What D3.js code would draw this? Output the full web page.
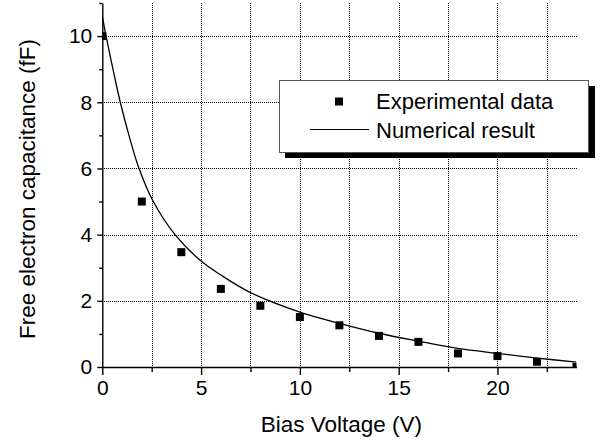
<!DOCTYPE html>
<html>
<head>
<meta charset="utf-8">
<script src="https://cdn.jsdelivr.net/npm/d3@7"></script>
<style>
  html, body { margin: 0; padding: 0; background: #fff; }
  svg { display: block; font-family: "Liberation Sans", Arial, Helvetica, sans-serif; }
</style>
</head>
<body>
<svg id="chart" width="610" height="443"></svg>
<script>
// ---- data ----
const expVoltage = [0, 2, 4, 6, 8, 10, 12, 14, 16, 18, 20, 22, 24];
const expCapacitance = [10.0, 5.0, 3.47, 2.36, 1.85, 1.51, 1.26, 0.94, 0.76, 0.41, 0.33, 0.16, 0.0];

const numVoltage = [0, 0.19, 0.54, 0.91, 1.35, 1.86, 2.58, 3.68, 5, 6, 7.5, 10, 12, 14, 16, 18, 20, 22, 24];
const numCapacitance = [10.6, 10.0, 9.0, 8.0, 7.0, 6.0, 5.0, 4.0, 3.2, 2.78, 2.25, 1.66, 1.32, 1.02, 0.78, 0.56, 0.41, 0.27, 0.15];

const xMajorTicks = [0, 5, 10, 15, 20];
const xMinorTicks = [2.5, 7.5, 12.5, 17.5, 22.5];
const yMajorTicks = [0, 2, 4, 6, 8, 10];
const yMinorTicks = [1, 3, 5, 7, 9, 11];

const xTitle = "Bias Voltage (V)";
const yTitle = "Free electron capacitance (fF)";
const legendLabels = ["Experimental data", "Numerical result"];

// ---- layout ----
const svg = d3.select("#chart");
const pLeft = 102.3, pRight = 576.5, pTop = 3, pBottom = 367;

const x = d3.scaleLinear().domain([0, 24]).range([pLeft, pRight]);
const y = d3.scaleLinear().domain([0, 11]).range([pBottom, pTop]);

// grid
const grid = svg.append("g").attr("stroke", "#000").attr("stroke-width", 1)
  .attr("stroke-dasharray", "1,1").attr("shape-rendering", "crispEdges");
[...xMajorTicks.filter(d => d > 0), ...xMinorTicks].forEach(v => {
  grid.append("line").attr("x1", Math.round(x(v)) + 0.5).attr("x2", Math.round(x(v)) + 0.5)
    .attr("y1", y(11)).attr("y2", pBottom);
});
yMajorTicks.filter(d => d > 0).forEach(v => {
  grid.append("line").attr("y1", Math.round(y(v)) + 0.5).attr("y2", Math.round(y(v)) + 0.5)
    .attr("x1", pLeft).attr("x2", pRight);
});

// clip
svg.append("clipPath").attr("id", "plotclip").append("rect")
  .attr("x", pLeft).attr("y", pTop).attr("width", pRight - pLeft).attr("height", pBottom - pTop);

// curve
const line = d3.line().x((d, i) => x(numVoltage[i])).y(d => y(d)).curve(d3.curveCatmullRom.alpha(0.5));
svg.append("path").datum(numCapacitance)
  .attr("d", line).attr("fill", "none").attr("stroke", "#000").attr("stroke-width", 1.3)
  .attr("clip-path", "url(#plotclip)");

// markers
const ms = 8;
svg.append("g").attr("clip-path", "url(#plotclip)")
  .selectAll("rect").data(expCapacitance).join("rect")
  .attr("x", (d, i) => x(expVoltage[i]) - ms / 2)
  .attr("y", d => y(d) - ms / 2)
  .attr("width", ms).attr("height", ms).attr("fill", "#000");

// axes
svg.append("g").attr("transform", `translate(0,${pBottom})`)
  .call(d3.axisBottom(x).tickValues(xMajorTicks).tickSize(8).tickSizeOuter(0).tickPadding(5));
svg.append("g").attr("transform", `translate(0,${pBottom})`)
  .call(d3.axisBottom(x).tickValues(xMinorTicks).tickSize(5).tickSizeOuter(0).tickFormat(""))
  .select(".domain").remove();
svg.append("g").attr("transform", `translate(${pLeft},0)`)
  .call(d3.axisLeft(y).tickValues(yMajorTicks).tickSize(5).tickSizeOuter(0).tickPadding(5));
svg.append("g").attr("transform", `translate(${pLeft},0)`)
  .call(d3.axisLeft(y).tickValues(yMinorTicks).tickSize(3).tickSizeOuter(0).tickFormat(""))
  .select(".domain").remove();

svg.selectAll(".tick line, .domain").attr("stroke", "#000").attr("stroke-width", 1.4);
svg.selectAll(".tick text").attr("fill", "#000").style("font-size", "21px")
  .style("font-family", "'Liberation Sans', Arial, sans-serif");

// titles
svg.append("text").attr("x", (pLeft + pRight) / 2 + 2).attr("y", 432)
  .attr("text-anchor", "middle").style("font-size", "22.5px").text(xTitle);
svg.append("text").attr("transform", `translate(35,189) rotate(-90)`)
  .attr("text-anchor", "middle").style("font-size", "22.5px").text(yTitle);

// legend
const lg = svg.append("g");
lg.append("rect").attr("x", 285).attr("y", 86).attr("width", 310).attr("height", 72).attr("fill", "#000");
lg.append("rect").attr("x", 279.5).attr("y", 80.5).attr("width", 309).attr("height", 72)
  .attr("fill", "#fff").attr("stroke", "#555").attr("stroke-width", 1);
lg.append("rect").attr("x", 339 - 4).attr("y", 101.5 - 4).attr("width", 8).attr("height", 8).attr("fill", "#000");
lg.append("line").attr("x1", 310).attr("x2", 369).attr("y1", 129.5).attr("y2", 129.5)
  .attr("stroke", "#000").attr("stroke-width", 1.2);
lg.append("text").attr("x", 376).attr("y", 109).style("font-size", "22px").text(legendLabels[0]);
lg.append("text").attr("x", 376).attr("y", 138).style("font-size", "22px").text(legendLabels[1]);
</script>
</body>
</html>
